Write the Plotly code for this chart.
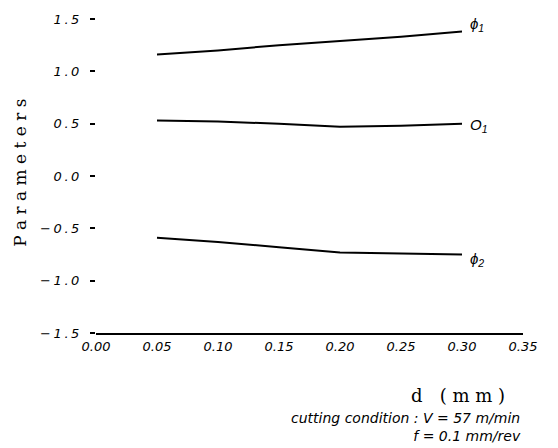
import plotly.graph_objects as go

d = [0.05, 0.10, 0.15, 0.20, 0.25, 0.30]
phi1 = [1.16, 1.20, 1.25, 1.29, 1.33, 1.38]
o1 = [0.53, 0.52, 0.50, 0.47, 0.48, 0.50]
phi2 = [-0.59, -0.63, -0.68, -0.73, -0.74, -0.75]

series = [("ϕ<sub>1</sub>", phi1), ("O<sub>1</sub>", o1), ("ϕ<sub>2</sub>", phi2)]
label_dy = [7, -2, -5]

xticks = [0.00, 0.05, 0.10, 0.15, 0.20, 0.25, 0.30, 0.35]
yticks = [-1.5, -1.0, -0.5, 0.0, 0.5, 1.0, 1.5]


def spaced(s, sep=" "):
    return sep.join(s)


fig = go.Figure()
for (name, vals) in series:
    fig.add_trace(go.Scatter(x=d, y=vals, mode="lines",
                             line=dict(color="black", width=2), showlegend=False))

for (name, vals), dy in zip(series, label_dy):
    fig.add_annotation(x=d[-1], y=vals[-1], text="<i>" + name + "</i>", showarrow=False,
                       xanchor="left", xshift=6, yshift=dy,
                       font=dict(family="Liberation Sans", size=15, color="black"))

cond_font = dict(family="DejaVu Sans", size=14, style="italic", color="black")
fig.add_annotation(xref="paper", yref="paper", x=0.997, y=-0.357, xanchor="right", yanchor="bottom",
                   align="right", borderpad=0,
                   text="<i>cutting condition : V = 57 m/min</i><br><i>f = 0.1 mm/rev</i>",
                   showarrow=False, font=cond_font)

# axis titles
fig.add_annotation(xref="paper", yref="paper", x=0.848, y=-0.199, xanchor="center", yanchor="middle",
                   text="d   " + spaced("(mm)"), showarrow=False,
                   font=dict(family="DejaVu Serif", size=18, color="black"))
fig.add_annotation(xref="paper", yref="paper", x=-0.178, y=0.51, xanchor="center", yanchor="middle",
                   text=spaced("Parameters"), textangle=-90, showarrow=False,
                   font=dict(family="DejaVu Serif", size=17, color="black"))

tickfont = dict(family="DejaVu Sans", size=13, style="italic", color="black")
fig.update_xaxes(range=[0, 0.35], tickvals=xticks,
                 ticktext=[f"<i>{v:.2f}</i>" for v in xticks],
                 showgrid=False, zeroline=False, showline=True,
                 linecolor="black", linewidth=2, ticks="",
                 tickfont=tickfont)
fig.update_yaxes(range=[-1.5, 1.5], tickvals=yticks,
                 ticktext=["<i>" + spaced(f"{v:.1f}".replace("-", "−"), "\u2009") + "</i>" for v in yticks],
                 showgrid=False, zeroline=False, showline=False,
                 ticks="outside", ticklen=5, tickwidth=2, tickcolor="black",
                 ticklabelstandoff=8,
                 tickfont=tickfont)

fig.update_layout(width=558, height=448, margin=dict(l=96, r=35, t=16, b=115),
                  plot_bgcolor="white", paper_bgcolor="white")
fig.write_html("out.html")
